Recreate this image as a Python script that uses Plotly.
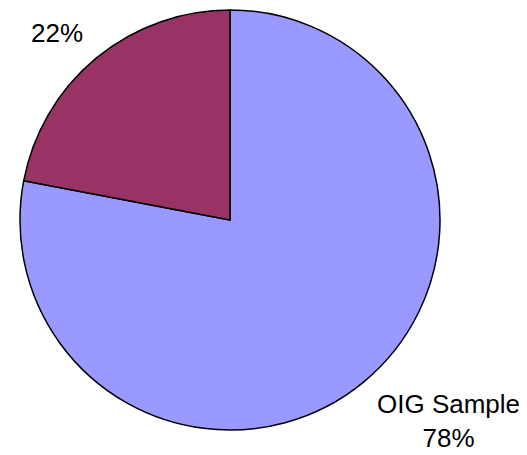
import plotly.graph_objects as go

labels = ["OIG Sample", "Other"]
values = [78, 22]
colors = ["#9999FF", "#993366"]

OFF = 8  # page body margin offset
W, H = 527 - OFF, 455 - OFF
cx, cy, r = 230 - OFF, 220 - OFF, 210

fig = go.Figure(go.Pie(
    labels=labels,
    values=values,
    sort=False,
    direction="clockwise",
    rotation=0,
    marker=dict(colors=colors, line=dict(color="black", width=1.5)),
    textinfo="none",
    hoverinfo="label+percent",
    domain=dict(x=[(cx - r) / W, (cx + r) / W], y=[1 - (cy + r) / H, 1 - (cy - r) / H]),
    showlegend=False,
))

font = dict(family="Liberation Sans, Arial", size=26, color="black")
fig.add_annotation(x=(448 - OFF) / W, y=1 - (421 - OFF) / H, xref="paper", yref="paper",
                   text=f"{labels[0]}<br>{values[0]}%", showarrow=False,
                   font=font, align="center", xanchor="center", yanchor="middle",
                   borderpad=0)
fig.add_annotation(x=(56.5 - OFF) / W, y=1 - (33 - OFF) / H, xref="paper", yref="paper",
                   text=f"{values[1]}%", showarrow=False,
                   font=font, xanchor="center", yanchor="middle")

fig.update_layout(width=W, height=H, margin=dict(l=0, r=0, t=0, b=0),
                  paper_bgcolor="white", plot_bgcolor="white")
fig.write_html("out.html")
